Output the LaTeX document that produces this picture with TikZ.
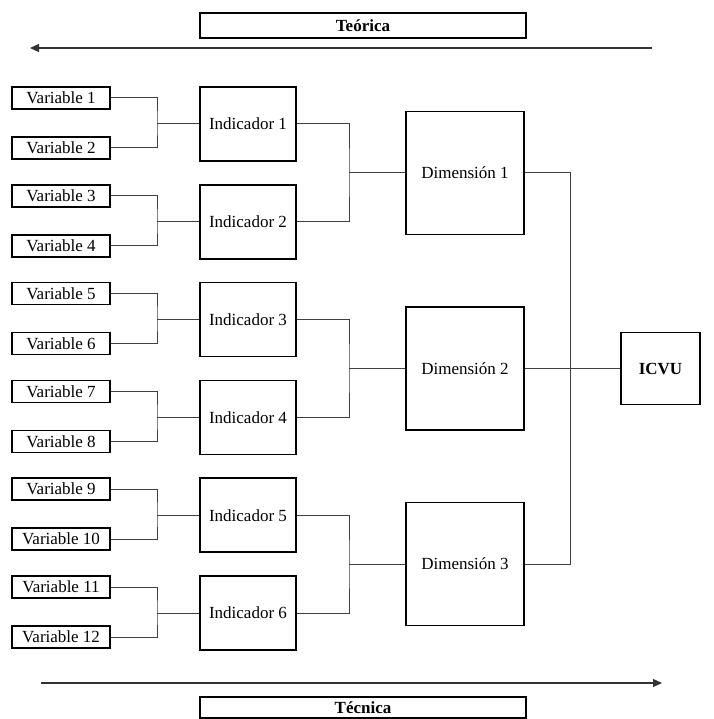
\documentclass[tikz,border=0pt]{standalone}
\usepackage{fontspec}
\setmainfont{Liberation Serif}
\usetikzlibrary{arrows.meta,calc}
\begin{document}
\begin{tikzpicture}[x=1pt,y=-1pt,
 box/.style={draw=black,line width=1.6pt,inner sep=0pt,font=\fontsize{17}{20}\selectfont},
 varbox/.style={box,minimum width=98pt,minimum height=22pt},
 indbox/.style={box,minimum width=96pt,minimum height=74pt},
 dimbox/.style={box,minimum width=118pt,minimum height=123pt},
 finalbox/.style={box,minimum width=79pt,minimum height=72pt,font=\fontsize{17}{20}\selectfont\bfseries},
 titlebox/.style={box,minimum width=326pt,font=\fontsize{17}{20}\selectfont\bfseries},
 link/.style={draw=black!75,line width=1pt},
 axis/.style={draw=black!80,line width=1.2pt,-{Triangle[length=9pt,width=8pt]}}]
\useasboundingbox (0,0) rectangle (713,719);
% variables and indicators
\foreach \k in {0,...,5}{
  \pgfmathsetmacro\dd{97.8*\k}
  \pgfmathtruncatemacro\va{2*\k+1}
  \pgfmathtruncatemacro\vb{2*\k+2}
  \pgfmathtruncatemacro\nn{\k+1}
  \node[varbox] (v\va) at (61,98+\dd) {Variable \va};
  \node[varbox] (v\vb) at (61,148+\dd) {Variable \vb};
  \node[indbox] (i\nn) at (248,124+\dd) {Indicador \nn};
  \coordinate (bx\nn) at (157,124+\dd);
  \draw[link] (v\va.east) -| (bx\nn) |- (v\vb.east);
  \draw[link] (bx\nn) -- (i\nn.west);
}
% dimensions
\foreach \j in {0,1,2}{
  \pgfmathsetmacro\ee{195.6*\j}
  \pgfmathtruncatemacro\ia{2*\j+1}
  \pgfmathtruncatemacro\ib{2*\j+2}
  \pgfmathtruncatemacro\mm{\j+1}
  \node[dimbox] (d\mm) at (465,172.9+\ee) {Dimensión \mm};
  \coordinate (dx\mm) at (349,172.9+\ee);
  \draw[link] (i\ia.east) -| (dx\mm) |- (i\ib.east);
  \draw[link] (dx\mm) -- (d\mm.west);
}
% final index
\node[finalbox] (icvu) at (660.5,368.5) {ICVU};
\coordinate (rx) at (570,368.5);
\draw[link] (d1.east) -| (rx) |- (d3.east);
\draw[link] (d2.east) -- (icvu.west);
% axes and titles
\node[titlebox,minimum height=25pt] (teorica) at (363,25.5) {Teórica};
\coordinate (ta1) at (652,48);
\coordinate (ta2) at (30,48);
\draw[axis] (ta1) -- (ta2);
\coordinate (tb1) at (41,683);
\coordinate (tb2) at (662,683);
\draw[axis] (tb1) -- (tb2);
\node[titlebox,minimum height=21pt] (tecnica) at (363,707.5) {Técnica};
\end{tikzpicture}
\end{document}
